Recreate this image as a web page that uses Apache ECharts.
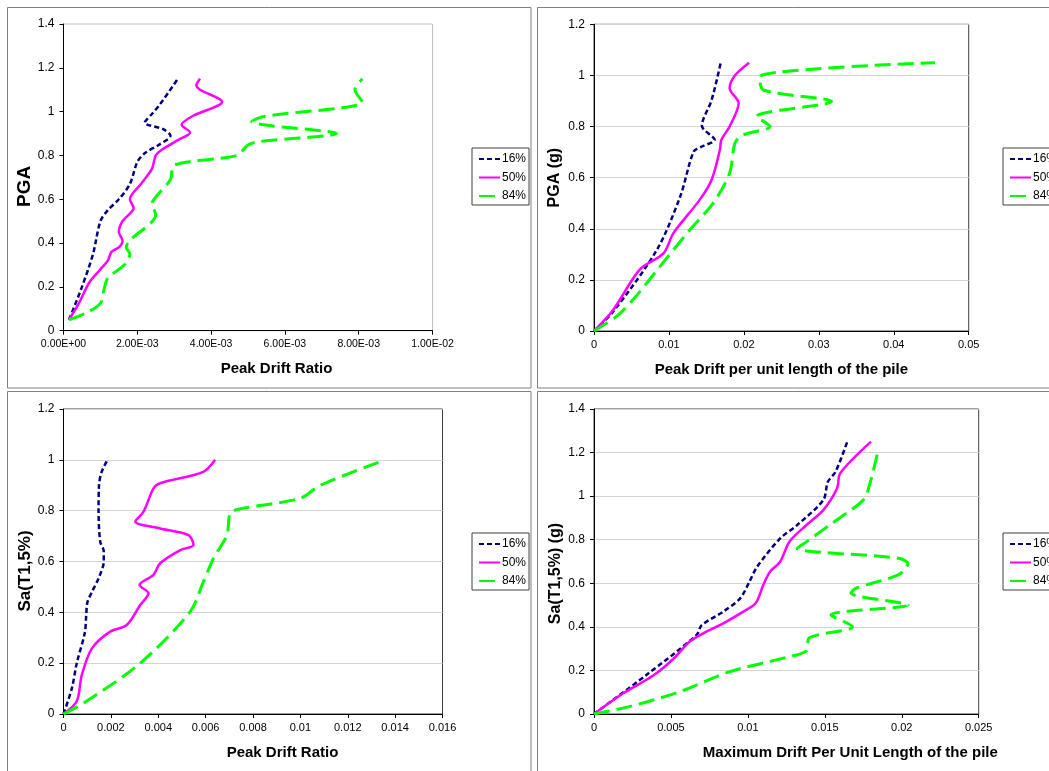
<!DOCTYPE html>
<html><head><meta charset="utf-8">
<script src="https://cdn.jsdelivr.net/npm/echarts@6/dist/echarts.min.js"></script>
<style>html,body{margin:0;padding:0;background:#fff;overflow:hidden}#c{width:1049px;height:771px}</style>
</head><body><div id="c"></div>
<script>
// ---------- data ----------
const seriesNames = ['16%', '50%', '84%'];

// Panel 1: PGA vs Peak Drift Ratio
const p1_16 = [[0.00015,0.05],[0.0005,0.2],[0.0008,0.35],[0.001,0.5],[0.0012,0.55],[0.0015,0.6],[0.0018,0.67],[0.002,0.77],[0.0022,0.81],[0.0026,0.85],[0.0029,0.89],[0.0027,0.92],[0.0022,0.95],[0.0024,0.99],[0.0026,1.03],[0.0031,1.15]];
const p1_50 = [[0.00015,0.05],[0.0004,0.12],[0.0007,0.22],[0.001,0.28],[0.0012,0.32],[0.0013,0.36],[0.0015,0.38],[0.0016,0.41],[0.0015,0.45],[0.0016,0.5],[0.0019,0.56],[0.0018,0.6],[0.0021,0.67],[0.0024,0.74],[0.0025,0.8],[0.0027,0.83],[0.0031,0.87],[0.00343,0.905],[0.0032,0.94],[0.0035,0.98],[0.0043,1.045],[0.0037,1.1],[0.0036,1.12],[0.0037,1.15]];
const p1_84 = [[0.00015,0.05],[0.0006,0.08],[0.001,0.125],[0.0011,0.19],[0.0012,0.24],[0.0015,0.28],[0.0017,0.31],[0.0018,0.35],[0.0017,0.38],[0.0025,0.53],[0.0024,0.58],[0.0025,0.61],[0.0029,0.69],[0.003,0.756],[0.0047,0.8],[0.005,0.848],[0.0053,0.863],[0.0074,0.9],[0.0051,0.954],[0.0054,0.977],[0.0081,1.045],[0.0079,1.1],[0.0081,1.15]];

// Panel 2: PGA (g) vs Peak Drift per unit length of the pile
const p2_16 = [[0,0],[0.0026,0.077],[0.0084,0.318],[0.0115,0.526],[0.0133,0.702],[0.0144,0.722],[0.0161,0.748],[0.0144,0.803],[0.0157,0.904],[0.0169,1.048]];
const p2_50 = [[0,0],[0.0025,0.08],[0.0061,0.24],[0.0093,0.305],[0.0106,0.383],[0.0141,0.513],[0.0157,0.592],[0.0168,0.709],[0.017,0.748],[0.0181,0.8],[0.0193,0.891],[0.0181,0.95],[0.0188,1.0],[0.0207,1.05]];
const p2_84 = [[0,0],[0.003,0.057],[0.0052,0.122],[0.0097,0.285],[0.0128,0.396],[0.0159,0.5],[0.0181,0.618],[0.0188,0.735],[0.0199,0.767],[0.0235,0.8],[0.0217,0.839],[0.0317,0.898],[0.0226,0.943],[0.0221,0.995],[0.0455,1.05]];

// Panel 3: Sa(T1,5%) vs Peak Drift Ratio
const p3_16 = [[0,0],[0.00035,0.1],[0.00056,0.2],[0.0009,0.32],[0.00096,0.39],[0.00101,0.44],[0.0012,0.48],[0.00148,0.534],[0.0017,0.6],[0.0017,0.64],[0.00155,0.678],[0.00148,0.8],[0.0015,0.9],[0.0016,0.95],[0.00186,1.0]];
const p3_50 = [[0,0],[0.00056,0.05],[0.00077,0.153],[0.0012,0.258],[0.00197,0.324],[0.00267,0.35],[0.00324,0.429],[0.00359,0.475],[0.00321,0.508],[0.0038,0.547],[0.00408,0.593],[0.00493,0.645],[0.00549,0.665],[0.00528,0.704],[0.00408,0.73],[0.00303,0.757],[0.00338,0.796],[0.0038,0.888],[0.00408,0.908],[0.00591,0.953],[0.0064,1.0]];
const p3_84 = [[0,0],[0.00084,0.042],[0.00324,0.2],[0.00535,0.403],[0.00591,0.521],[0.00633,0.612],[0.0069,0.704],[0.00704,0.79],[0.00746,0.807],[0.01,0.849],[0.01084,0.9],[0.01344,0.995]];

// Panel 4: Sa(T1,5%) (g) vs Maximum Drift Per Unit Length of the pile
const p4_16 = [[0,0],[0.0034,0.179],[0.00667,0.363],[0.007,0.408],[0.0084,0.47],[0.0095,0.531],[0.0101,0.607],[0.0106,0.676],[0.0121,0.806],[0.0132,0.867],[0.0149,0.982],[0.0152,1.066],[0.0157,1.112],[0.0165,1.258]];
const p4_50 = [[0,0],[0.0019,0.095],[0.0039,0.179],[0.0052,0.256],[0.0062,0.332],[0.0073,0.378],[0.0084,0.416],[0.0097,0.47],[0.0105,0.508],[0.011,0.592],[0.01144,0.653],[0.0121,0.699],[0.0127,0.791],[0.0138,0.867],[0.0149,0.936],[0.0158,1.036],[0.016,1.105],[0.018,1.25]];
const p4_84 = [[0,0],[0.0023,0.034],[0.0056,0.103],[0.0088,0.194],[0.0125,0.26],[0.0138,0.29],[0.014,0.35],[0.0168,0.4],[0.0154,0.455],[0.0204,0.5],[0.0167,0.555],[0.017,0.577],[0.0198,0.64],[0.0204,0.69],[0.0198,0.715],[0.0132,0.76],[0.0138,0.79],[0.0153,0.867],[0.0175,0.982],[0.0179,1.05],[0.0185,1.22]];

// axis definitions
const xNames = ['Peak Drift Ratio', 'Peak Drift per unit length of the pile', 'Peak Drift Ratio', 'Maximum Drift Per Unit Length of the pile'];
const yNames = ['PGA', 'PGA (g)', 'Sa(T1,5%)', 'Sa(T1,5%) (g)'];
const xMax = [0.01, 0.05, 0.016, 0.025];
const xStep = [0.002, 0.01, 0.002, 0.005];
const yMax = [1.4, 1.2, 1.2, 1.4];
const yStep = [0.2, 0.2, 0.2, 0.2];

const panelData = [[p1_16,p1_50,p1_84],[p2_16,p2_50,p2_84],[p3_16,p3_50,p3_84],[p4_16,p4_50,p4_84]];

// ---------- layout & style ----------
const FONT = '"Liberation Sans", Arial, sans-serif';
const grids = [
  {left: 63.5, top: 24, width: 369, height: 306.7},
  {left: 594, top: 24.3, width: 374.7, height: 306.7},
  {left: 63.5, top: 409, width: 379, height: 305},
  {left: 594, top: 409, width: 384.7, height: 305}
];
const gridBorder = ['#c0c0c0', '#404040', '#404040', '#404040'];
const showGridLines = [false, true, true, true];
const xNamePad = [[0,0,0,57],[0,0,0,0],[0,0,0,59],[0,0,0,128]];
const yNamePad = [[0,18,0,0],[0,0,0,0],[0,19,0,0],[0,24,0,0]];
const yNameSize = [19, 16, 17, 16];
const yNameGap = [25, 31, 29, 30];
const xLabelSize = [10.5, 11, 11, 11];
const legendPos = [{left: 472, top: 148},{left: 1003, top: 148},{left: 472, top: 533},{left: 1003, top: 533}];

const colors = ['#000080', '#ff00ff', '#00ff00'];
const lineStyles = [
  {width: 2.5, type: [5, 3]},
  {width: 2.5, type: 'solid'},
  {width: 3, type: [16, 7]}
];

function sciFmt(v) {
  if (Math.abs(v) < 1e-12) return '0.00E+00';
  let e = Math.floor(Math.log10(v) + 1e-9);
  let m = v / Math.pow(10, e);
  let ae = Math.abs(e);
  return m.toFixed(2) + 'E' + (e < 0 ? '-' : '+') + (ae < 10 ? '0' + ae : '' + ae);
}

const option = {
  backgroundColor: '#ffffff',
  animation: false,
  textStyle: {fontFamily: FONT},
  grid: grids.map((g, i) => Object.assign({
    show: true, borderColor: gridBorder[i], borderWidth: 1, backgroundColor: 'transparent',
    containLabel: false, outerBoundsMode: 'none'
  }, g)),
  xAxis: grids.map((g, i) => ({
    type: 'value', gridIndex: i, min: 0, max: xMax[i], interval: xStep[i],
    name: xNames[i], nameLocation: 'middle', nameGap: 31,
    nameTextStyle: {fontFamily: FONT, fontSize: 15, fontWeight: 'bold', color: '#000', padding: xNamePad[i]},
    axisLine: {show: true, onZero: false, lineStyle: {color: '#000', width: 1}},
    axisTick: {show: true, inside: false, length: 4, lineStyle: {color: '#000'}},
    axisLabel: Object.assign({fontFamily: FONT, fontSize: xLabelSize[i], color: '#000', margin: 8},
      i === 0 ? {formatter: sciFmt} : {}),
    splitLine: {show: false}
  })),
  yAxis: grids.map((g, i) => ({
    type: 'value', gridIndex: i, min: 0, max: yMax[i], interval: yStep[i],
    name: yNames[i], nameLocation: 'middle', nameGap: yNameGap[i], nameRotate: 90,
    nameTextStyle: {fontFamily: FONT, fontSize: yNameSize[i], fontWeight: 'bold', color: '#000', padding: yNamePad[i]},
    axisLine: {show: true, onZero: false, lineStyle: {color: '#000', width: 1}},
    axisTick: {show: true, inside: false, length: 4, lineStyle: {color: '#000'}},
    axisLabel: {fontFamily: FONT, fontSize: 12, color: '#000', margin: 9},
    splitLine: {show: showGridLines[i], lineStyle: {color: '#d4d4d4', width: 1}}
  })),
  legend: legendPos.map((p, i) => ({
    left: p.left, top: p.top, orient: 'vertical',
    data: seriesNames,
    selectedMode: false,
    itemWidth: 21, itemHeight: 12, itemGap: 6.5,
    padding: [5, 3, 3, 6],
    borderColor: '#404040', borderWidth: 1, backgroundColor: '#fff',
    itemStyle: {opacity: 0, borderWidth: 0},
    textStyle: {fontFamily: FONT, fontSize: 12, color: '#000', padding: [0, 0, 0, -3]}
  })),
  graphic: {
    elements: [
      {type: 'rect', z: -10, silent: true, shape: {x: 7.5, y: 7.5, width: 523.5, height: 380.5}, style: {fill: 'none', stroke: '#808080', lineWidth: 1}},
      {type: 'rect', z: -10, silent: true, shape: {x: 537.5, y: 7.5, width: 530, height: 380.5}, style: {fill: 'none', stroke: '#808080', lineWidth: 1}},
      {type: 'rect', z: -10, silent: true, shape: {x: 7.5, y: 391.5, width: 523.5, height: 400}, style: {fill: 'none', stroke: '#808080', lineWidth: 1}},
      {type: 'rect', z: -10, silent: true, shape: {x: 537.5, y: 391.5, width: 530, height: 400}, style: {fill: 'none', stroke: '#808080', lineWidth: 1}}
    ]
  },
  series: []
};

panelData.forEach((sets, i) => {
  sets.forEach((d, k) => {
    option.series.push({
      type: 'line', name: seriesNames[k], xAxisIndex: i, yAxisIndex: i,
      data: d, smooth: 0.3, symbol: 'none', showSymbol: false,
      color: colors[k],
      lineStyle: Object.assign({color: colors[k], cap: 'butt'}, lineStyles[k]),
      z: 2 + k
    });
  });
});

const chart = echarts.init(document.getElementById('c'), null, {renderer: 'canvas'});
chart.setOption(option);
</script></body></html>
